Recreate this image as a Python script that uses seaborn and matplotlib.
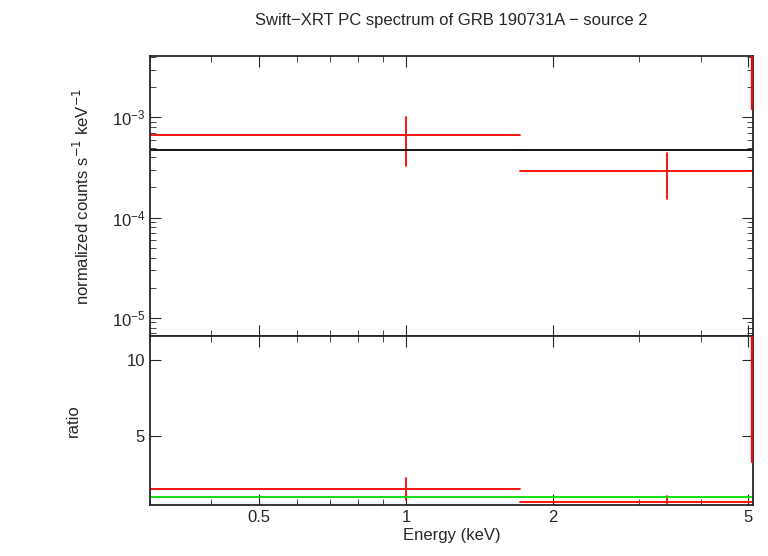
import numpy as np
import matplotlib
matplotlib.use("Agg")
import matplotlib.pyplot as plt
import seaborn as sns

sns.set_style("ticks")
plt.rcParams["font.family"] = "Liberation Sans"

# spectrum bins (keV)
e_lo = [0.3, 1.71]
e_hi = [1.71, 5.1]
e_mid = [1.0, 3.41]
flux = [6.7e-4, 2.95e-4]
flux_lo = [3.3e-4, 1.55e-4]
flux_hi = [1.0e-3, 4.4e-4]
model = [4.7e-4, 4.75e-4]
ratio = [1.51, 0.66]
ratio_lo = [0.79, 0.30]
ratio_hi = [2.24, 1.05]
# last bin sits on the right edge
edge_e = 5.09
edge_flux = [1.2e-3, 4.5e-3]
edge_ratio = [3.3, 12.0]

fig = plt.figure(figsize=(7.68, 5.56), dpi=100)
ax1 = fig.add_axes([150/768, 1-336/556, 603/768, 280/556])
ax2 = fig.add_axes([150/768, 1-505/556, 603/768, 169/556], sharex=ax1)

red = "#ff0000"
for i in range(len(e_mid)):
    ax1.plot([e_lo[i], e_hi[i]], [flux[i]] * 2, color=red, lw=1.3)
    ax1.plot([e_mid[i]] * 2, [flux_lo[i], flux_hi[i]], color=red, lw=1.3)
    ax1.plot([e_lo[i], e_hi[i]], [model[i]] * 2, color="black", lw=1.3)
    ax2.plot([e_lo[i], e_hi[i]], [ratio[i]] * 2, color=red, lw=1.3)
    ax2.plot([e_mid[i]] * 2, [ratio_lo[i], ratio_hi[i]], color=red, lw=1.3)
ax1.plot([edge_e] * 2, edge_flux, color=red, lw=1.6, zorder=5)
ax2.plot([edge_e] * 2, edge_ratio, color=red, lw=1.6, zorder=5)
ax2.axhline(1.0, color="#00dd00", lw=1.3)

ax1.set_xscale("log")
ax1.set_yscale("log")
ax1.set_xlim(0.3, 5.12)
ax1.set_ylim(6.6e-6, 4.1e-3)
ax2.set_ylim(0.46, 11.6)
ax2.set_xticks([0.5, 1, 2, 5])
ax2.set_xticklabels(["0.5", "1", "2", "5"])
ax2.set_yticks([5, 10])
ax1.tick_params(labelbottom=False)
for ax in (ax1, ax2):
    ax.tick_params(which="both", direction="in", top=True, right=True, labelsize=12)
    ax.tick_params(which="major", length=8)
    ax.tick_params(which="minor", length=4)
    for s in ax.spines.values():
        s.set_linewidth(1.3)

ax1.set_ylabel("normalized counts s$^{-1}$ keV$^{-1}$", fontsize=12, labelpad=14)
ax2.set_ylabel("ratio", fontsize=12, labelpad=33)
ax2.set_xlabel("Energy (keV)", fontsize=12, labelpad=2)
ax1.set_title("Swift\u2212XRT PC spectrum of GRB 190731A \u2212 source 2", fontsize=12, pad=22)

fig.savefig("out.png", dpi=100)
